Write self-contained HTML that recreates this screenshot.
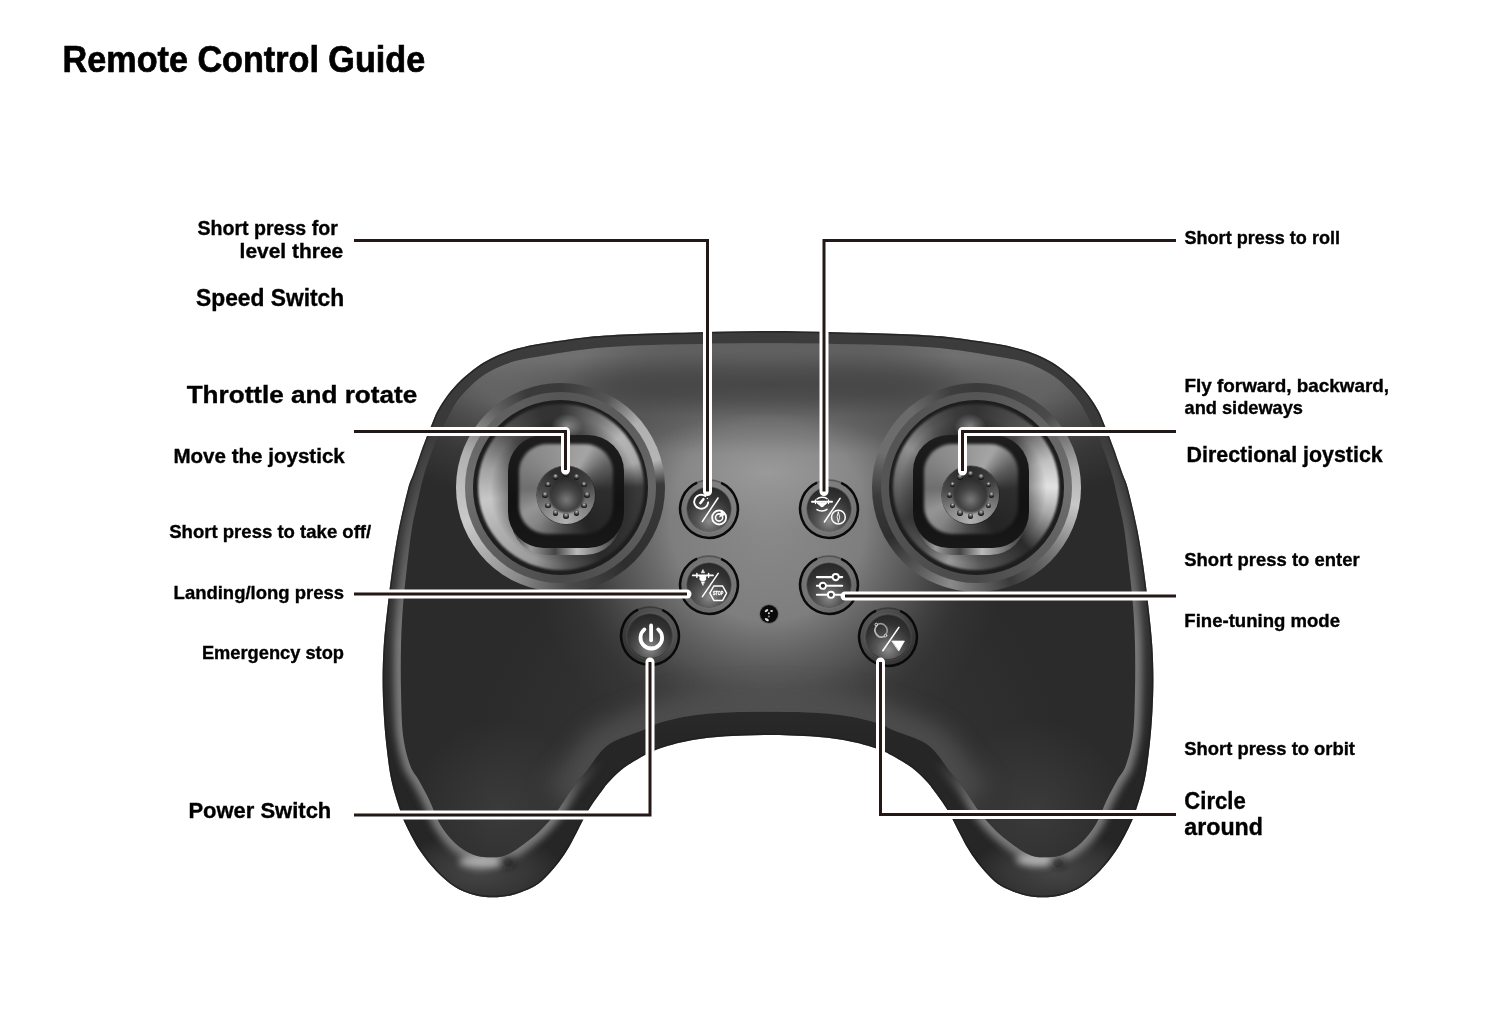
<!DOCTYPE html>
<html><head><meta charset="utf-8"><title>Remote Control Guide</title>
<style>
html,body{margin:0;padding:0;background:#fff;}
body{width:1500px;height:1021px;position:relative;overflow:hidden;font-family:"Liberation Sans",sans-serif;}
.abs{position:absolute;left:0;top:0;will-change:transform;}
</style></head><body>
<svg class="abs" width="1500" height="1021" viewBox="0 0 1500 1021">
<defs>
 <radialGradient id="faceG" gradientUnits="userSpaceOnUse" cx="768" cy="520" r="245" gradientTransform="translate(768 520) scale(1 1.03) translate(-768 -520)">
  <stop offset="0" stop-color="#8a8a8a" stop-opacity="1"/>
  <stop offset="0.4" stop-color="#7e7e7e" stop-opacity="1"/>
  <stop offset="0.65" stop-color="#5c5c5c" stop-opacity="0.75"/>
  <stop offset="0.85" stop-color="#404040" stop-opacity="0.3"/>
  <stop offset="1" stop-color="#404040" stop-opacity="0"/>
 </radialGradient>
 <radialGradient id="darkBand2" gradientUnits="userSpaceOnUse" cx="768" cy="412" r="330" gradientTransform="translate(768 412) scale(1 0.13) translate(-768 -412)">
  <stop offset="0" stop-color="#3a3a3a" stop-opacity="0.35"/>
  <stop offset="0.6" stop-color="#3a3a3a" stop-opacity="0.2"/>
  <stop offset="1" stop-color="#3a3a3a" stop-opacity="0"/>
 </radialGradient>
 <radialGradient id="hiG" gradientUnits="userSpaceOnUse" cx="768" cy="472" r="140" gradientTransform="translate(768 472) scale(1 0.42) translate(-768 -472)">
  <stop offset="0" stop-color="#a8a8a8" stop-opacity="0.6"/>
  <stop offset="0.5" stop-color="#a0a0a0" stop-opacity="0.35"/>
  <stop offset="1" stop-color="#9a9a9a" stop-opacity="0"/>
 </radialGradient>
 <radialGradient id="gripL" gradientUnits="userSpaceOnUse" cx="500" cy="810" r="90">
  <stop offset="0" stop-color="#3c3c3c" stop-opacity="0.9"/>
  <stop offset="1" stop-color="#3c3c3c" stop-opacity="0"/>
 </radialGradient>
 <radialGradient id="gripR" gradientUnits="userSpaceOnUse" cx="1036" cy="810" r="90">
  <stop offset="0" stop-color="#3c3c3c" stop-opacity="0.9"/>
  <stop offset="1" stop-color="#3c3c3c" stop-opacity="0"/>
 </radialGradient>
 <radialGradient id="faceB" gradientUnits="userSpaceOnUse" cx="768" cy="330" r="520" gradientTransform="translate(768 330) scale(1 0.385) translate(-768 -330)">
  <stop offset="0" stop-color="#747474" stop-opacity="1"/>
  <stop offset="0.55" stop-color="#6e6e6e" stop-opacity="1"/>
  <stop offset="0.62" stop-color="#686868" stop-opacity="1"/>
  <stop offset="0.72" stop-color="#525252" stop-opacity="0.9"/>
  <stop offset="0.85" stop-color="#444" stop-opacity="0.5"/>
  <stop offset="1" stop-color="#444" stop-opacity="0"/>
 </radialGradient>
 <radialGradient id="darkBand" gradientUnits="userSpaceOnUse" cx="768" cy="384" r="330" gradientTransform="translate(768 384) scale(1 0.1) translate(-768 -384)">
  <stop offset="0" stop-color="#3a3a3a" stop-opacity="0.7"/>
  <stop offset="0.45" stop-color="#3a3a3a" stop-opacity="0.5"/>
  <stop offset="0.8" stop-color="#3a3a3a" stop-opacity="0.15"/>
  <stop offset="1" stop-color="#3a3a3a" stop-opacity="0"/>
 </radialGradient>
 <linearGradient id="topG" gradientUnits="userSpaceOnUse" x1="0" y1="345" x2="0" y2="440">
  <stop offset="0" stop-color="#3a3a3a" stop-opacity="0"/>
  <stop offset="0.2" stop-color="#3a3a3a" stop-opacity="0.1"/>
  <stop offset="0.38" stop-color="#3a3a3a" stop-opacity="0.55"/>
  <stop offset="0.6" stop-color="#3a3a3a" stop-opacity="0.2"/>
  <stop offset="1" stop-color="#3a3a3a" stop-opacity="0"/>
 </linearGradient>
 <linearGradient id="silG" gradientUnits="userSpaceOnUse" x1="0" y1="330" x2="0" y2="900">
  <stop offset="0" stop-color="#3c3c3c"/>
  <stop offset="0.45" stop-color="#353535"/>
  <stop offset="0.62" stop-color="#2c2c2c"/>
  <stop offset="0.72" stop-color="#262626"/>
  <stop offset="1" stop-color="#262626"/>
 </linearGradient>
 <radialGradient id="faceG2" gradientUnits="userSpaceOnUse" cx="768" cy="800" r="300">
  <stop offset="0" stop-color="#3e3e3e" stop-opacity="0.9"/>
  <stop offset="1" stop-color="#3e3e3e" stop-opacity="0"/>
 </radialGradient>
 <filter id="blur3" filterUnits="userSpaceOnUse" x="0" y="0" width="1500" height="1021"><feGaussianBlur stdDeviation="3.5"/></filter>
 <clipPath id="silClip"><path d="M768.0,331.0 C745.3,331.0 722.0,331.7 700.0,332.2 C678.0,332.7 654.7,333.3 636.0,334.1 C617.3,334.9 604.0,335.4 588.0,337.0 C572.0,338.6 550.4,342.2 540.0,343.8 C529.6,345.4 531.1,345.2 525.8,346.5 C520.5,347.8 514.1,349.2 508.2,351.3 C502.3,353.4 495.6,356.2 490.5,358.8 C485.4,361.4 481.7,363.6 477.3,366.7 C472.9,369.8 467.8,374.1 464.1,377.3 C460.4,380.5 458.2,382.9 455.3,386.1 C452.4,389.3 449.4,392.6 446.5,396.7 C443.6,400.8 440.1,406.1 437.6,410.8 C435.1,415.5 433.4,420.6 431.5,425.0 C429.6,429.4 428.0,433.3 426.4,437.5 C424.8,441.7 423.0,446.2 421.7,450.0 C420.4,453.8 419.8,455.8 418.3,460.0 C416.9,464.2 414.7,470.2 413.0,475.0 C411.3,479.8 410.3,480.2 408.0,489.0 C405.7,497.8 401.6,515.0 399.0,528.0 C396.4,541.0 394.4,553.9 392.5,567.0 C390.6,580.1 389.1,593.4 387.6,606.5 C386.1,619.6 384.5,633.5 383.7,645.7 C382.9,658.0 382.6,669.0 382.6,680.0 C382.6,691.0 383.0,701.2 383.6,712.0 C384.2,722.8 385.0,733.7 386.3,745.0 C387.6,756.3 389.0,769.2 391.3,780.0 C393.6,790.8 397.4,802.2 400.0,810.0 C402.6,817.8 403.4,819.9 406.7,826.7 C410.0,833.5 415.1,843.4 420.0,850.7 C424.9,858.0 430.2,864.7 436.0,870.7 C441.8,876.7 448.5,882.7 454.7,886.7 C460.9,890.7 466.9,892.9 473.3,894.7 C479.7,896.5 486.6,897.3 493.3,897.3 C500.0,897.3 506.4,896.6 513.3,894.7 C520.2,892.8 529.2,889.2 534.9,886.0 C540.6,882.8 543.5,879.3 547.6,875.2 C551.7,871.1 555.8,866.2 559.4,861.5 C563.0,856.8 566.3,851.7 569.2,846.8 C572.1,841.9 573.7,838.3 577.0,832.1 C580.3,825.9 584.5,816.6 588.8,809.6 C593.0,802.6 599.0,794.7 602.5,790.0 C606.0,785.3 606.0,785.0 609.6,781.3 C613.2,777.6 618.5,771.9 624.3,767.6 C630.1,763.3 639.3,758.2 644.4,755.3 C649.5,752.4 649.0,752.4 654.6,750.4 C660.2,748.4 670.9,745.0 678.1,743.1 C685.3,741.2 690.7,740.3 697.7,739.2 C704.7,738.1 712.1,737.3 720.0,736.7 C727.9,736.1 737.0,735.8 745.0,735.5 C753.0,735.2 760.3,735.0 768.0,735.0 C775.7,735.0 783.0,735.2 791.0,735.5 C799.0,735.8 808.1,736.1 816.0,736.7 C823.9,737.3 831.3,738.1 838.3,739.2 C845.3,740.3 850.7,741.2 857.9,743.1 C865.1,745.0 875.8,748.4 881.4,750.4 C887.0,752.4 886.5,752.4 891.6,755.3 C896.7,758.2 905.9,763.3 911.7,767.6 C917.5,771.9 922.8,777.6 926.4,781.3 C930.0,785.0 930.0,785.3 933.5,790.0 C937.0,794.7 943.0,802.6 947.2,809.6 C951.5,816.6 955.7,825.9 959.0,832.1 C962.3,838.3 963.9,841.9 966.8,846.8 C969.7,851.7 973.0,856.8 976.6,861.5 C980.2,866.2 984.3,871.1 988.4,875.2 C992.5,879.3 995.4,882.8 1001.1,886.0 C1006.8,889.2 1015.8,892.8 1022.7,894.7 C1029.6,896.6 1036.0,897.3 1042.7,897.3 C1049.4,897.3 1056.3,896.5 1062.7,894.7 C1069.1,892.9 1075.1,890.7 1081.3,886.7 C1087.5,882.7 1094.2,876.7 1100.0,870.7 C1105.8,864.7 1111.1,858.0 1116.0,850.7 C1120.9,843.4 1126.0,833.5 1129.3,826.7 C1132.6,819.9 1133.4,817.8 1136.0,810.0 C1138.6,802.2 1142.4,790.8 1144.7,780.0 C1147.0,769.2 1148.4,756.3 1149.7,745.0 C1151.0,733.7 1151.8,722.8 1152.4,712.0 C1153.0,701.2 1153.4,691.0 1153.4,680.0 C1153.4,669.0 1153.1,658.0 1152.3,645.7 C1151.5,633.5 1149.9,619.6 1148.4,606.5 C1146.9,593.4 1145.4,580.1 1143.5,567.0 C1141.6,553.9 1139.6,541.0 1137.0,528.0 C1134.4,515.0 1130.3,497.8 1128.0,489.0 C1125.7,480.2 1124.7,479.8 1123.0,475.0 C1121.3,470.2 1119.2,464.2 1117.7,460.0 C1116.2,455.8 1115.7,453.8 1114.3,450.0 C1112.9,446.2 1111.2,441.7 1109.6,437.5 C1108.0,433.3 1106.4,429.4 1104.5,425.0 C1102.6,420.6 1100.9,415.5 1098.4,410.8 C1095.9,406.1 1092.5,400.8 1089.5,396.7 C1086.5,392.6 1083.6,389.3 1080.7,386.1 C1077.8,382.9 1075.6,380.5 1071.9,377.3 C1068.2,374.1 1063.1,369.8 1058.7,366.7 C1054.3,363.6 1050.7,361.4 1045.5,358.8 C1040.3,356.2 1033.7,353.4 1027.8,351.3 C1021.9,349.2 1015.5,347.8 1010.2,346.5 C1004.9,345.2 1006.4,345.4 996.0,343.8 C985.6,342.2 964.0,338.6 948.0,337.0 C932.0,335.4 918.7,334.9 900.0,334.1 C881.3,333.3 858.0,332.7 836.0,332.2 C814.0,331.7 790.7,331.0 768.0,331.0Z"/></clipPath>
 <linearGradient id="hlG" gradientUnits="userSpaceOnUse" x1="0" y1="420" x2="0" y2="640">
  <stop offset="0" stop-color="#fff" stop-opacity="0"/>
  <stop offset="1" stop-color="#fff" stop-opacity="1"/>
 </linearGradient>
 <linearGradient id="hlX" gradientUnits="userSpaceOnUse" x1="370" y1="0" x2="1166" y2="0">
  <stop offset="0" stop-color="#fff"/>
  <stop offset="0.2" stop-color="#fff"/>
  <stop offset="0.27" stop-color="#000"/>
  <stop offset="0.73" stop-color="#000"/>
  <stop offset="0.8" stop-color="#fff"/>
  <stop offset="1" stop-color="#fff"/>
 </linearGradient>
 <mask id="hlMask" maskUnits="userSpaceOnUse" x="0" y="0" width="1500" height="1021">
  <rect x="370" y="400" width="800" height="520" fill="url(#hlG)"/>
 </mask>
 <linearGradient id="hlY2" gradientUnits="userSpaceOnUse" x1="0" y1="760" x2="0" y2="820">
  <stop offset="0" stop-color="#fff" stop-opacity="0"/>
  <stop offset="1" stop-color="#fff" stop-opacity="1"/>
 </linearGradient>
 <mask id="hlMask2" maskUnits="userSpaceOnUse" x="0" y="0" width="1500" height="1021">
  <rect x="370" y="300" width="800" height="620" fill="url(#hlX)"/>
  <rect x="370" y="300" width="800" height="620" fill="url(#hlY2)"/>
 </mask>
 <radialGradient id="gripRim">
  <stop offset="0" stop-color="#4a4a4a" stop-opacity="0.9"/>
  <stop offset="0.6" stop-color="#404040" stop-opacity="0.6"/>
  <stop offset="1" stop-color="#404040" stop-opacity="0"/>
 </radialGradient>
 <filter id="blur10" filterUnits="userSpaceOnUse" x="0" y="0" width="1500" height="1021"><feGaussianBlur stdDeviation="11"/></filter>
 <clipPath id="faceClip"><path d="M768.0,343.3 C745.3,343.3 722.0,343.5 700.0,343.9 C678.0,344.3 654.7,344.6 636.0,345.5 C617.3,346.4 604.0,347.2 588.0,349.0 C572.0,350.8 551.8,354.3 540.0,356.2 C528.2,358.1 523.8,358.9 517.0,360.6 C510.2,362.4 505.3,364.1 499.4,366.7 C493.5,369.3 486.8,372.9 481.7,376.4 C476.6,379.9 472.6,383.8 468.5,387.9 C464.4,392.0 460.7,395.8 457.0,401.1 C453.3,406.4 449.5,414.1 446.5,419.7 C443.5,425.3 441.3,429.9 439.0,435.0 C436.7,440.1 435.1,443.3 432.6,450.0 C430.1,456.7 426.4,466.7 424.0,475.0 C421.6,483.3 420.0,491.2 418.0,500.0 C416.0,508.8 413.8,516.8 412.0,528.0 C410.2,539.2 408.5,554.0 407.0,567.0 C405.5,580.0 404.0,592.8 403.0,606.0 C402.0,619.2 401.3,632.0 401.0,646.0 C400.7,660.0 400.7,675.2 401.0,690.0 C401.3,704.8 401.5,722.5 403.0,735.0 C404.5,747.5 407.4,757.5 410.0,765.0 C412.6,772.5 415.5,774.2 418.7,780.0 C421.9,785.8 425.8,792.7 429.3,800.0 C432.9,807.3 435.8,816.9 440.0,824.0 C444.2,831.1 449.1,837.6 454.7,842.7 C460.2,847.8 466.9,852.3 473.3,854.7 C479.7,857.1 487.7,857.3 493.3,857.3 C498.9,857.3 502.2,856.5 506.7,854.7 C511.1,852.9 514.5,850.7 520.0,846.7 C525.5,842.7 533.8,836.7 540.0,830.7 C546.2,824.7 551.8,818.0 557.3,810.7 C562.8,803.4 568.3,793.4 573.3,786.7 C578.2,780.0 582.6,776.1 587.0,770.5 C591.4,764.9 595.2,757.8 599.8,752.9 C604.4,748.0 607.1,745.0 614.5,741.1 C621.9,737.2 637.7,732.2 644.4,729.4 C651.1,726.6 649.0,726.4 654.6,724.5 C660.2,722.6 670.9,719.7 678.1,718.1 C685.3,716.5 690.7,715.6 697.7,714.7 C704.7,713.8 712.1,713.2 720.0,712.7 C727.9,712.2 737.0,712.1 745.0,712.0 C753.0,711.9 760.3,711.8 768.0,711.8 C775.7,711.8 783.0,711.9 791.0,712.0 C799.0,712.1 808.1,712.2 816.0,712.7 C823.9,713.2 831.3,713.8 838.3,714.7 C845.3,715.6 850.7,716.5 857.9,718.1 C865.1,719.7 875.8,722.6 881.4,724.5 C887.0,726.4 884.9,726.6 891.6,729.4 C898.3,732.2 914.1,737.2 921.5,741.1 C928.9,745.0 931.6,748.0 936.2,752.9 C940.8,757.8 944.6,764.9 949.0,770.5 C953.4,776.1 957.8,780.0 962.7,786.7 C967.7,793.4 973.2,803.4 978.7,810.7 C984.2,818.0 989.8,824.7 996.0,830.7 C1002.2,836.7 1010.5,842.7 1016.0,846.7 C1021.5,850.7 1024.8,852.9 1029.3,854.7 C1033.8,856.5 1037.1,857.3 1042.7,857.3 C1048.3,857.3 1056.3,857.1 1062.7,854.7 C1069.1,852.3 1075.8,847.8 1081.3,842.7 C1086.8,837.6 1091.8,831.1 1096.0,824.0 C1100.2,816.9 1103.2,807.3 1106.7,800.0 C1110.2,792.7 1114.1,785.8 1117.3,780.0 C1120.5,774.2 1123.4,772.5 1126.0,765.0 C1128.6,757.5 1131.5,747.5 1133.0,735.0 C1134.5,722.5 1134.7,704.8 1135.0,690.0 C1135.3,675.2 1135.3,660.0 1135.0,646.0 C1134.7,632.0 1134.0,619.2 1133.0,606.0 C1132.0,592.8 1130.5,580.0 1129.0,567.0 C1127.5,554.0 1125.8,539.2 1124.0,528.0 C1122.2,516.8 1120.0,508.8 1118.0,500.0 C1116.0,491.2 1114.4,483.3 1112.0,475.0 C1109.6,466.7 1105.9,456.7 1103.4,450.0 C1100.9,443.3 1099.3,440.1 1097.0,435.0 C1094.7,429.9 1092.5,425.3 1089.5,419.7 C1086.5,414.1 1082.7,406.4 1079.0,401.1 C1075.3,395.8 1071.6,392.0 1067.5,387.9 C1063.4,383.8 1059.5,379.9 1054.3,376.4 C1049.1,372.9 1042.5,369.3 1036.6,366.7 C1030.7,364.1 1025.8,362.4 1019.0,360.6 C1012.2,358.9 1007.8,358.1 996.0,356.2 C984.2,354.3 964.0,350.8 948.0,349.0 C932.0,347.2 918.7,346.4 900.0,345.5 C881.3,344.6 858.0,344.3 836.0,343.9 C814.0,343.5 790.7,343.3 768.0,343.3Z"/></clipPath>
</defs>
<path d="M768.0,331.0 C745.3,331.0 722.0,331.7 700.0,332.2 C678.0,332.7 654.7,333.3 636.0,334.1 C617.3,334.9 604.0,335.4 588.0,337.0 C572.0,338.6 550.4,342.2 540.0,343.8 C529.6,345.4 531.1,345.2 525.8,346.5 C520.5,347.8 514.1,349.2 508.2,351.3 C502.3,353.4 495.6,356.2 490.5,358.8 C485.4,361.4 481.7,363.6 477.3,366.7 C472.9,369.8 467.8,374.1 464.1,377.3 C460.4,380.5 458.2,382.9 455.3,386.1 C452.4,389.3 449.4,392.6 446.5,396.7 C443.6,400.8 440.1,406.1 437.6,410.8 C435.1,415.5 433.4,420.6 431.5,425.0 C429.6,429.4 428.0,433.3 426.4,437.5 C424.8,441.7 423.0,446.2 421.7,450.0 C420.4,453.8 419.8,455.8 418.3,460.0 C416.9,464.2 414.7,470.2 413.0,475.0 C411.3,479.8 410.3,480.2 408.0,489.0 C405.7,497.8 401.6,515.0 399.0,528.0 C396.4,541.0 394.4,553.9 392.5,567.0 C390.6,580.1 389.1,593.4 387.6,606.5 C386.1,619.6 384.5,633.5 383.7,645.7 C382.9,658.0 382.6,669.0 382.6,680.0 C382.6,691.0 383.0,701.2 383.6,712.0 C384.2,722.8 385.0,733.7 386.3,745.0 C387.6,756.3 389.0,769.2 391.3,780.0 C393.6,790.8 397.4,802.2 400.0,810.0 C402.6,817.8 403.4,819.9 406.7,826.7 C410.0,833.5 415.1,843.4 420.0,850.7 C424.9,858.0 430.2,864.7 436.0,870.7 C441.8,876.7 448.5,882.7 454.7,886.7 C460.9,890.7 466.9,892.9 473.3,894.7 C479.7,896.5 486.6,897.3 493.3,897.3 C500.0,897.3 506.4,896.6 513.3,894.7 C520.2,892.8 529.2,889.2 534.9,886.0 C540.6,882.8 543.5,879.3 547.6,875.2 C551.7,871.1 555.8,866.2 559.4,861.5 C563.0,856.8 566.3,851.7 569.2,846.8 C572.1,841.9 573.7,838.3 577.0,832.1 C580.3,825.9 584.5,816.6 588.8,809.6 C593.0,802.6 599.0,794.7 602.5,790.0 C606.0,785.3 606.0,785.0 609.6,781.3 C613.2,777.6 618.5,771.9 624.3,767.6 C630.1,763.3 639.3,758.2 644.4,755.3 C649.5,752.4 649.0,752.4 654.6,750.4 C660.2,748.4 670.9,745.0 678.1,743.1 C685.3,741.2 690.7,740.3 697.7,739.2 C704.7,738.1 712.1,737.3 720.0,736.7 C727.9,736.1 737.0,735.8 745.0,735.5 C753.0,735.2 760.3,735.0 768.0,735.0 C775.7,735.0 783.0,735.2 791.0,735.5 C799.0,735.8 808.1,736.1 816.0,736.7 C823.9,737.3 831.3,738.1 838.3,739.2 C845.3,740.3 850.7,741.2 857.9,743.1 C865.1,745.0 875.8,748.4 881.4,750.4 C887.0,752.4 886.5,752.4 891.6,755.3 C896.7,758.2 905.9,763.3 911.7,767.6 C917.5,771.9 922.8,777.6 926.4,781.3 C930.0,785.0 930.0,785.3 933.5,790.0 C937.0,794.7 943.0,802.6 947.2,809.6 C951.5,816.6 955.7,825.9 959.0,832.1 C962.3,838.3 963.9,841.9 966.8,846.8 C969.7,851.7 973.0,856.8 976.6,861.5 C980.2,866.2 984.3,871.1 988.4,875.2 C992.5,879.3 995.4,882.8 1001.1,886.0 C1006.8,889.2 1015.8,892.8 1022.7,894.7 C1029.6,896.6 1036.0,897.3 1042.7,897.3 C1049.4,897.3 1056.3,896.5 1062.7,894.7 C1069.1,892.9 1075.1,890.7 1081.3,886.7 C1087.5,882.7 1094.2,876.7 1100.0,870.7 C1105.8,864.7 1111.1,858.0 1116.0,850.7 C1120.9,843.4 1126.0,833.5 1129.3,826.7 C1132.6,819.9 1133.4,817.8 1136.0,810.0 C1138.6,802.2 1142.4,790.8 1144.7,780.0 C1147.0,769.2 1148.4,756.3 1149.7,745.0 C1151.0,733.7 1151.8,722.8 1152.4,712.0 C1153.0,701.2 1153.4,691.0 1153.4,680.0 C1153.4,669.0 1153.1,658.0 1152.3,645.7 C1151.5,633.5 1149.9,619.6 1148.4,606.5 C1146.9,593.4 1145.4,580.1 1143.5,567.0 C1141.6,553.9 1139.6,541.0 1137.0,528.0 C1134.4,515.0 1130.3,497.8 1128.0,489.0 C1125.7,480.2 1124.7,479.8 1123.0,475.0 C1121.3,470.2 1119.2,464.2 1117.7,460.0 C1116.2,455.8 1115.7,453.8 1114.3,450.0 C1112.9,446.2 1111.2,441.7 1109.6,437.5 C1108.0,433.3 1106.4,429.4 1104.5,425.0 C1102.6,420.6 1100.9,415.5 1098.4,410.8 C1095.9,406.1 1092.5,400.8 1089.5,396.7 C1086.5,392.6 1083.6,389.3 1080.7,386.1 C1077.8,382.9 1075.6,380.5 1071.9,377.3 C1068.2,374.1 1063.1,369.8 1058.7,366.7 C1054.3,363.6 1050.7,361.4 1045.5,358.8 C1040.3,356.2 1033.7,353.4 1027.8,351.3 C1021.9,349.2 1015.5,347.8 1010.2,346.5 C1004.9,345.2 1006.4,345.4 996.0,343.8 C985.6,342.2 964.0,338.6 948.0,337.0 C932.0,335.4 918.7,334.9 900.0,334.1 C881.3,333.3 858.0,332.7 836.0,332.2 C814.0,331.7 790.7,331.0 768.0,331.0Z" fill="url(#silG)"/>
<g clip-path="url(#silClip)">
 <ellipse cx="480" cy="872" rx="85" ry="40" fill="url(#gripRim)"/>
 <ellipse cx="1056" cy="872" rx="85" ry="40" fill="url(#gripRim)"/>
 <path d="M768.0,331.0 C745.3,331.0 722.0,331.7 700.0,332.2 C678.0,332.7 654.7,333.3 636.0,334.1 C617.3,334.9 604.0,335.4 588.0,337.0 C572.0,338.6 550.4,342.2 540.0,343.8 C529.6,345.4 531.1,345.2 525.8,346.5 C520.5,347.8 514.1,349.2 508.2,351.3 C502.3,353.4 495.6,356.2 490.5,358.8 C485.4,361.4 481.7,363.6 477.3,366.7 C472.9,369.8 467.8,374.1 464.1,377.3 C460.4,380.5 458.2,382.9 455.3,386.1 C452.4,389.3 449.4,392.6 446.5,396.7 C443.6,400.8 440.1,406.1 437.6,410.8 C435.1,415.5 433.4,420.6 431.5,425.0 C429.6,429.4 428.0,433.3 426.4,437.5 C424.8,441.7 423.0,446.2 421.7,450.0 C420.4,453.8 419.8,455.8 418.3,460.0 C416.9,464.2 414.7,470.2 413.0,475.0 C411.3,479.8 410.3,480.2 408.0,489.0 C405.7,497.8 401.6,515.0 399.0,528.0 C396.4,541.0 394.4,553.9 392.5,567.0 C390.6,580.1 389.1,593.4 387.6,606.5 C386.1,619.6 384.5,633.5 383.7,645.7 C382.9,658.0 382.6,669.0 382.6,680.0 C382.6,691.0 383.0,701.2 383.6,712.0 C384.2,722.8 385.0,733.7 386.3,745.0 C387.6,756.3 389.0,769.2 391.3,780.0 C393.6,790.8 397.4,802.2 400.0,810.0 C402.6,817.8 403.4,819.9 406.7,826.7 C410.0,833.5 415.1,843.4 420.0,850.7 C424.9,858.0 430.2,864.7 436.0,870.7 C441.8,876.7 448.5,882.7 454.7,886.7 C460.9,890.7 466.9,892.9 473.3,894.7 C479.7,896.5 486.6,897.3 493.3,897.3 C500.0,897.3 506.4,896.6 513.3,894.7 C520.2,892.8 529.2,889.2 534.9,886.0 C540.6,882.8 543.5,879.3 547.6,875.2 C551.7,871.1 555.8,866.2 559.4,861.5 C563.0,856.8 566.3,851.7 569.2,846.8 C572.1,841.9 573.7,838.3 577.0,832.1 C580.3,825.9 584.5,816.6 588.8,809.6 C593.0,802.6 599.0,794.7 602.5,790.0 C606.0,785.3 606.0,785.0 609.6,781.3 C613.2,777.6 618.5,771.9 624.3,767.6 C630.1,763.3 639.3,758.2 644.4,755.3 C649.5,752.4 649.0,752.4 654.6,750.4 C660.2,748.4 670.9,745.0 678.1,743.1 C685.3,741.2 690.7,740.3 697.7,739.2 C704.7,738.1 712.1,737.3 720.0,736.7 C727.9,736.1 737.0,735.8 745.0,735.5 C753.0,735.2 760.3,735.0 768.0,735.0 C775.7,735.0 783.0,735.2 791.0,735.5 C799.0,735.8 808.1,736.1 816.0,736.7 C823.9,737.3 831.3,738.1 838.3,739.2 C845.3,740.3 850.7,741.2 857.9,743.1 C865.1,745.0 875.8,748.4 881.4,750.4 C887.0,752.4 886.5,752.4 891.6,755.3 C896.7,758.2 905.9,763.3 911.7,767.6 C917.5,771.9 922.8,777.6 926.4,781.3 C930.0,785.0 930.0,785.3 933.5,790.0 C937.0,794.7 943.0,802.6 947.2,809.6 C951.5,816.6 955.7,825.9 959.0,832.1 C962.3,838.3 963.9,841.9 966.8,846.8 C969.7,851.7 973.0,856.8 976.6,861.5 C980.2,866.2 984.3,871.1 988.4,875.2 C992.5,879.3 995.4,882.8 1001.1,886.0 C1006.8,889.2 1015.8,892.8 1022.7,894.7 C1029.6,896.6 1036.0,897.3 1042.7,897.3 C1049.4,897.3 1056.3,896.5 1062.7,894.7 C1069.1,892.9 1075.1,890.7 1081.3,886.7 C1087.5,882.7 1094.2,876.7 1100.0,870.7 C1105.8,864.7 1111.1,858.0 1116.0,850.7 C1120.9,843.4 1126.0,833.5 1129.3,826.7 C1132.6,819.9 1133.4,817.8 1136.0,810.0 C1138.6,802.2 1142.4,790.8 1144.7,780.0 C1147.0,769.2 1148.4,756.3 1149.7,745.0 C1151.0,733.7 1151.8,722.8 1152.4,712.0 C1153.0,701.2 1153.4,691.0 1153.4,680.0 C1153.4,669.0 1153.1,658.0 1152.3,645.7 C1151.5,633.5 1149.9,619.6 1148.4,606.5 C1146.9,593.4 1145.4,580.1 1143.5,567.0 C1141.6,553.9 1139.6,541.0 1137.0,528.0 C1134.4,515.0 1130.3,497.8 1128.0,489.0 C1125.7,480.2 1124.7,479.8 1123.0,475.0 C1121.3,470.2 1119.2,464.2 1117.7,460.0 C1116.2,455.8 1115.7,453.8 1114.3,450.0 C1112.9,446.2 1111.2,441.7 1109.6,437.5 C1108.0,433.3 1106.4,429.4 1104.5,425.0 C1102.6,420.6 1100.9,415.5 1098.4,410.8 C1095.9,406.1 1092.5,400.8 1089.5,396.7 C1086.5,392.6 1083.6,389.3 1080.7,386.1 C1077.8,382.9 1075.6,380.5 1071.9,377.3 C1068.2,374.1 1063.1,369.8 1058.7,366.7 C1054.3,363.6 1050.7,361.4 1045.5,358.8 C1040.3,356.2 1033.7,353.4 1027.8,351.3 C1021.9,349.2 1015.5,347.8 1010.2,346.5 C1004.9,345.2 1006.4,345.4 996.0,343.8 C985.6,342.2 964.0,338.6 948.0,337.0 C932.0,335.4 918.7,334.9 900.0,334.1 C881.3,333.3 858.0,332.7 836.0,332.2 C814.0,331.7 790.7,331.0 768.0,331.0Z" fill="none" stroke="#1c1c1c" stroke-width="3" opacity="0.7"/>
</g>
<g clip-path="url(#silClip)"><g mask="url(#hlMask)"><g mask="url(#hlMask2)">
 <path d="M768.0,343.3 C745.3,343.3 722.0,343.5 700.0,343.9 C678.0,344.3 654.7,344.6 636.0,345.5 C617.3,346.4 604.0,347.2 588.0,349.0 C572.0,350.8 551.8,354.3 540.0,356.2 C528.2,358.1 523.8,358.9 517.0,360.6 C510.2,362.4 505.3,364.1 499.4,366.7 C493.5,369.3 486.8,372.9 481.7,376.4 C476.6,379.9 472.6,383.8 468.5,387.9 C464.4,392.0 460.7,395.8 457.0,401.1 C453.3,406.4 449.5,414.1 446.5,419.7 C443.5,425.3 441.3,429.9 439.0,435.0 C436.7,440.1 435.1,443.3 432.6,450.0 C430.1,456.7 426.4,466.7 424.0,475.0 C421.6,483.3 420.0,491.2 418.0,500.0 C416.0,508.8 413.8,516.8 412.0,528.0 C410.2,539.2 408.5,554.0 407.0,567.0 C405.5,580.0 404.0,592.8 403.0,606.0 C402.0,619.2 401.3,632.0 401.0,646.0 C400.7,660.0 400.7,675.2 401.0,690.0 C401.3,704.8 401.5,722.5 403.0,735.0 C404.5,747.5 407.4,757.5 410.0,765.0 C412.6,772.5 415.5,774.2 418.7,780.0 C421.9,785.8 425.8,792.7 429.3,800.0 C432.9,807.3 435.8,816.9 440.0,824.0 C444.2,831.1 449.1,837.6 454.7,842.7 C460.2,847.8 466.9,852.3 473.3,854.7 C479.7,857.1 487.7,857.3 493.3,857.3 C498.9,857.3 502.2,856.5 506.7,854.7 C511.1,852.9 514.5,850.7 520.0,846.7 C525.5,842.7 533.8,836.7 540.0,830.7 C546.2,824.7 551.8,818.0 557.3,810.7 C562.8,803.4 568.3,793.4 573.3,786.7 C578.2,780.0 582.6,776.1 587.0,770.5 C591.4,764.9 595.2,757.8 599.8,752.9 C604.4,748.0 607.1,745.0 614.5,741.1 C621.9,737.2 637.7,732.2 644.4,729.4 C651.1,726.6 649.0,726.4 654.6,724.5 C660.2,722.6 670.9,719.7 678.1,718.1 C685.3,716.5 690.7,715.6 697.7,714.7 C704.7,713.8 712.1,713.2 720.0,712.7 C727.9,712.2 737.0,712.1 745.0,712.0 C753.0,711.9 760.3,711.8 768.0,711.8 C775.7,711.8 783.0,711.9 791.0,712.0 C799.0,712.1 808.1,712.2 816.0,712.7 C823.9,713.2 831.3,713.8 838.3,714.7 C845.3,715.6 850.7,716.5 857.9,718.1 C865.1,719.7 875.8,722.6 881.4,724.5 C887.0,726.4 884.9,726.6 891.6,729.4 C898.3,732.2 914.1,737.2 921.5,741.1 C928.9,745.0 931.6,748.0 936.2,752.9 C940.8,757.8 944.6,764.9 949.0,770.5 C953.4,776.1 957.8,780.0 962.7,786.7 C967.7,793.4 973.2,803.4 978.7,810.7 C984.2,818.0 989.8,824.7 996.0,830.7 C1002.2,836.7 1010.5,842.7 1016.0,846.7 C1021.5,850.7 1024.8,852.9 1029.3,854.7 C1033.8,856.5 1037.1,857.3 1042.7,857.3 C1048.3,857.3 1056.3,857.1 1062.7,854.7 C1069.1,852.3 1075.8,847.8 1081.3,842.7 C1086.8,837.6 1091.8,831.1 1096.0,824.0 C1100.2,816.9 1103.2,807.3 1106.7,800.0 C1110.2,792.7 1114.1,785.8 1117.3,780.0 C1120.5,774.2 1123.4,772.5 1126.0,765.0 C1128.6,757.5 1131.5,747.5 1133.0,735.0 C1134.5,722.5 1134.7,704.8 1135.0,690.0 C1135.3,675.2 1135.3,660.0 1135.0,646.0 C1134.7,632.0 1134.0,619.2 1133.0,606.0 C1132.0,592.8 1130.5,580.0 1129.0,567.0 C1127.5,554.0 1125.8,539.2 1124.0,528.0 C1122.2,516.8 1120.0,508.8 1118.0,500.0 C1116.0,491.2 1114.4,483.3 1112.0,475.0 C1109.6,466.7 1105.9,456.7 1103.4,450.0 C1100.9,443.3 1099.3,440.1 1097.0,435.0 C1094.7,429.9 1092.5,425.3 1089.5,419.7 C1086.5,414.1 1082.7,406.4 1079.0,401.1 C1075.3,395.8 1071.6,392.0 1067.5,387.9 C1063.4,383.8 1059.5,379.9 1054.3,376.4 C1049.1,372.9 1042.5,369.3 1036.6,366.7 C1030.7,364.1 1025.8,362.4 1019.0,360.6 C1012.2,358.9 1007.8,358.1 996.0,356.2 C984.2,354.3 964.0,350.8 948.0,349.0 C932.0,347.2 918.7,346.4 900.0,345.5 C881.3,344.6 858.0,344.3 836.0,343.9 C814.0,343.5 790.7,343.3 768.0,343.3Z" fill="none" stroke="#7a7a7a" stroke-width="14" filter="url(#blur3)"/>
 <ellipse cx="481" cy="862" rx="22" ry="6.5" fill="#b8b8b8" opacity="0.85" filter="url(#blur3)"/>
 <ellipse cx="1036" cy="860" rx="20" ry="6.5" fill="#b8b8b8" opacity="0.85" filter="url(#blur3)"/>
 <ellipse cx="1058" cy="863" rx="7" ry="5" fill="#151515" opacity="0.8" filter="url(#blur3)"/>
 <ellipse cx="508" cy="862" rx="7" ry="5" fill="#151515" opacity="0.8" filter="url(#blur3)"/>
</g></g></g>
<path d="M768.0,343.3 C745.3,343.3 722.0,343.5 700.0,343.9 C678.0,344.3 654.7,344.6 636.0,345.5 C617.3,346.4 604.0,347.2 588.0,349.0 C572.0,350.8 551.8,354.3 540.0,356.2 C528.2,358.1 523.8,358.9 517.0,360.6 C510.2,362.4 505.3,364.1 499.4,366.7 C493.5,369.3 486.8,372.9 481.7,376.4 C476.6,379.9 472.6,383.8 468.5,387.9 C464.4,392.0 460.7,395.8 457.0,401.1 C453.3,406.4 449.5,414.1 446.5,419.7 C443.5,425.3 441.3,429.9 439.0,435.0 C436.7,440.1 435.1,443.3 432.6,450.0 C430.1,456.7 426.4,466.7 424.0,475.0 C421.6,483.3 420.0,491.2 418.0,500.0 C416.0,508.8 413.8,516.8 412.0,528.0 C410.2,539.2 408.5,554.0 407.0,567.0 C405.5,580.0 404.0,592.8 403.0,606.0 C402.0,619.2 401.3,632.0 401.0,646.0 C400.7,660.0 400.7,675.2 401.0,690.0 C401.3,704.8 401.5,722.5 403.0,735.0 C404.5,747.5 407.4,757.5 410.0,765.0 C412.6,772.5 415.5,774.2 418.7,780.0 C421.9,785.8 425.8,792.7 429.3,800.0 C432.9,807.3 435.8,816.9 440.0,824.0 C444.2,831.1 449.1,837.6 454.7,842.7 C460.2,847.8 466.9,852.3 473.3,854.7 C479.7,857.1 487.7,857.3 493.3,857.3 C498.9,857.3 502.2,856.5 506.7,854.7 C511.1,852.9 514.5,850.7 520.0,846.7 C525.5,842.7 533.8,836.7 540.0,830.7 C546.2,824.7 551.8,818.0 557.3,810.7 C562.8,803.4 568.3,793.4 573.3,786.7 C578.2,780.0 582.6,776.1 587.0,770.5 C591.4,764.9 595.2,757.8 599.8,752.9 C604.4,748.0 607.1,745.0 614.5,741.1 C621.9,737.2 637.7,732.2 644.4,729.4 C651.1,726.6 649.0,726.4 654.6,724.5 C660.2,722.6 670.9,719.7 678.1,718.1 C685.3,716.5 690.7,715.6 697.7,714.7 C704.7,713.8 712.1,713.2 720.0,712.7 C727.9,712.2 737.0,712.1 745.0,712.0 C753.0,711.9 760.3,711.8 768.0,711.8 C775.7,711.8 783.0,711.9 791.0,712.0 C799.0,712.1 808.1,712.2 816.0,712.7 C823.9,713.2 831.3,713.8 838.3,714.7 C845.3,715.6 850.7,716.5 857.9,718.1 C865.1,719.7 875.8,722.6 881.4,724.5 C887.0,726.4 884.9,726.6 891.6,729.4 C898.3,732.2 914.1,737.2 921.5,741.1 C928.9,745.0 931.6,748.0 936.2,752.9 C940.8,757.8 944.6,764.9 949.0,770.5 C953.4,776.1 957.8,780.0 962.7,786.7 C967.7,793.4 973.2,803.4 978.7,810.7 C984.2,818.0 989.8,824.7 996.0,830.7 C1002.2,836.7 1010.5,842.7 1016.0,846.7 C1021.5,850.7 1024.8,852.9 1029.3,854.7 C1033.8,856.5 1037.1,857.3 1042.7,857.3 C1048.3,857.3 1056.3,857.1 1062.7,854.7 C1069.1,852.3 1075.8,847.8 1081.3,842.7 C1086.8,837.6 1091.8,831.1 1096.0,824.0 C1100.2,816.9 1103.2,807.3 1106.7,800.0 C1110.2,792.7 1114.1,785.8 1117.3,780.0 C1120.5,774.2 1123.4,772.5 1126.0,765.0 C1128.6,757.5 1131.5,747.5 1133.0,735.0 C1134.5,722.5 1134.7,704.8 1135.0,690.0 C1135.3,675.2 1135.3,660.0 1135.0,646.0 C1134.7,632.0 1134.0,619.2 1133.0,606.0 C1132.0,592.8 1130.5,580.0 1129.0,567.0 C1127.5,554.0 1125.8,539.2 1124.0,528.0 C1122.2,516.8 1120.0,508.8 1118.0,500.0 C1116.0,491.2 1114.4,483.3 1112.0,475.0 C1109.6,466.7 1105.9,456.7 1103.4,450.0 C1100.9,443.3 1099.3,440.1 1097.0,435.0 C1094.7,429.9 1092.5,425.3 1089.5,419.7 C1086.5,414.1 1082.7,406.4 1079.0,401.1 C1075.3,395.8 1071.6,392.0 1067.5,387.9 C1063.4,383.8 1059.5,379.9 1054.3,376.4 C1049.1,372.9 1042.5,369.3 1036.6,366.7 C1030.7,364.1 1025.8,362.4 1019.0,360.6 C1012.2,358.9 1007.8,358.1 996.0,356.2 C984.2,354.3 964.0,350.8 948.0,349.0 C932.0,347.2 918.7,346.4 900.0,345.5 C881.3,344.6 858.0,344.3 836.0,343.9 C814.0,343.5 790.7,343.3 768.0,343.3Z" fill="#2b2b2b"/>
<g clip-path="url(#faceClip)">
 <rect x="380" y="330" width="780" height="560" fill="url(#faceG2)"/>
 <rect x="380" y="330" width="780" height="560" fill="url(#faceB)"/>
 <rect x="380" y="330" width="780" height="560" fill="url(#faceG)"/>
 <rect x="380" y="340" width="780" height="120" fill="url(#darkBand)"/>
 <rect x="380" y="340" width="780" height="160" fill="url(#darkBand2)"/>
 <rect x="380" y="330" width="780" height="560" fill="url(#hiG)"/>
 <path d="M560.0,800.0 C562.2,797.8 568.8,791.6 573.3,786.7 C577.8,781.8 582.6,776.1 587.0,770.5 C591.4,764.9 595.2,757.8 599.8,752.9 C604.4,748.0 607.1,745.0 614.5,741.1 C621.9,737.2 637.7,732.2 644.4,729.4 C651.1,726.6 649.0,726.4 654.6,724.5 C660.2,722.6 670.9,719.7 678.1,718.1 C685.3,716.5 690.7,715.6 697.7,714.7 C704.7,713.8 712.1,713.2 720.0,712.7 C727.9,712.2 737.0,712.1 745.0,712.0 C753.0,711.9 760.3,711.8 768.0,711.8 C775.7,711.8 783.0,711.9 791.0,712.0 C799.0,712.1 808.1,712.2 816.0,712.7 C823.9,713.2 831.3,713.8 838.3,714.7 C845.3,715.6 850.7,716.5 857.9,718.1 C865.1,719.7 875.8,722.6 881.4,724.5 C887.0,726.4 884.9,726.6 891.6,729.4 C898.3,732.2 914.1,737.2 921.5,741.1 C928.9,745.0 931.6,748.0 936.2,752.9 C940.8,757.8 944.6,764.9 949.0,770.5 C953.4,776.1 958.2,781.8 962.7,786.7 C967.2,791.6 973.8,797.8 976.0,800.0" fill="none" stroke="#555" stroke-width="44" filter="url(#blur10)" opacity="0.75"/>
 <rect x="380" y="600" width="780" height="300" fill="url(#gripL)"/>
 <rect x="380" y="600" width="780" height="300" fill="url(#gripR)"/>
</g>
<text x="62.6" y="72" font-family="Liberation Sans" font-weight="bold" font-size="36" stroke="#000" stroke-width="0.7" textLength="362.6" lengthAdjust="spacingAndGlyphs">Remote Control Guide</text>
</svg>
<div style="position:absolute;left:456.0px;top:382.5px;width:209.0px;height:209.0px;border-radius:50%;background:conic-gradient(from 0deg at 50% 50%, #3a3a3a 0deg, #555 28deg, #b0b0b0 50deg, #b5b5b5 74deg, #3a3a3a 88deg, #2e2e2e 140deg, #4a4a4a 175deg, #8a8a8a 205deg, #cacaca 250deg, #b0b0b0 290deg, #666 318deg, #3a3a3a 340deg, #3a3a3a 360deg);filter:blur(0.6px);"></div>
<div style="position:absolute;left:465.0px;top:391.5px;width:191.0px;height:191.0px;border-radius:50%;background:conic-gradient(from 0deg at 50% 50%, #555 0deg, #666 90deg, #4a4a4a 180deg, #707070 270deg, #555 360deg);"></div>
<div style="position:absolute;left:473.0px;top:399.5px;width:175.0px;height:175.0px;border-radius:50%;background:#1e1e1e;filter:blur(0.5px);"></div>
<div style="position:absolute;left:477.5px;top:404.0px;width:166.0px;height:166.0px;border-radius:50%;background:conic-gradient(from 0deg at 50% 50%, #333 0deg, #777 30deg, #b5b5b5 50deg, #aaa 72deg, #3a3a3a 90deg, #2a2a2a 150deg, #555 175deg, #9a9a9a 200deg, #b0b0b0 235deg, #c8c8c8 260deg, #a0a0a0 285deg, #505050 315deg, #333 345deg, #333 360deg);filter:blur(1.2px);"></div>
<div style="position:absolute;left:483.5px;top:410.0px;width:160.0px;height:160.0px;border-radius:50%;background:radial-gradient(circle closest-side, rgba(20,20,20,0.45) 0%, rgba(20,20,20,0.4) 70%, rgba(20,20,20,0) 92%);"></div>
<div style="position:absolute;left:550.5px;top:409.0px;width:32.0px;height:32.0px;border-radius:50%;background:radial-gradient(ellipse 50% 40% at 50% 55%, rgba(200,200,200,0.55), rgba(200,200,200,0));"></div>
<div style="position:absolute;left:511.0px;top:442.0px;width:110px;height:113px;border-radius:36px;background:linear-gradient(90deg, #333 0%, #9a9a9a 18%, #444 40%, #bbb 60%, #777 80%, #333 100%);filter:blur(0.6px);"></div>
<div style="position:absolute;left:508.0px;top:435.0px;width:116px;height:113px;border-radius:36px;background:linear-gradient(180deg,#1e1e1e,#121212 60%,#181818);"></div>
<div style="position:absolute;left:519.0px;top:443.5px;width:94px;height:90px;border-radius:28px;background:conic-gradient(from 0deg at 50% 50%, #999 0deg, #a5a5a5 30deg, #5e5e5e 60deg, #2e2e2e 90deg, #242424 150deg, #4a4a4a 185deg, #858585 220deg, #959595 240deg, #6e6e6e 270deg, #888 315deg, #999 360deg);filter:blur(1.5px);"></div>
<div style="position:absolute;left:537.2px;top:466.2px;width:57.6px;height:57.6px;border-radius:50%;background:conic-gradient(from 0deg at 50% 50%, #2a2a2a 0deg, #404040 60deg, #777 110deg, #b0b0b0 180deg, #8a8a8a 230deg, #4a4a4a 280deg, #2e2e2e 330deg, #2a2a2a 360deg);box-shadow:0 0 0 0.6px rgba(20,20,20,0.6);"></div>
<div style="position:absolute;left:548.5px;top:477.5px;width:35.0px;height:35.0px;border-radius:50%;background:radial-gradient(circle at 50% 62%, #7a7a7a 0%, #444 40%, #2a2a2a 80%, #2e2e2e 100%);filter:blur(0.8px);"></div>
<div style="position:absolute;left:563.2px;top:471.2px;width:5.6px;height:5.6px;border-radius:50%;background:radial-gradient(circle at 50% 30%, #ccc 0%, #666 30%, #151515 70%);"></div>
<div style="position:absolute;left:573.7px;top:474.0px;width:5.6px;height:5.6px;border-radius:50%;background:radial-gradient(circle at 50% 30%, #ccc 0%, #666 30%, #151515 70%);"></div>
<div style="position:absolute;left:581.4px;top:481.7px;width:5.6px;height:5.6px;border-radius:50%;background:radial-gradient(circle at 50% 30%, #ccc 0%, #666 30%, #151515 70%);"></div>
<div style="position:absolute;left:584.2px;top:492.2px;width:5.6px;height:5.6px;border-radius:50%;background:radial-gradient(circle at 50% 30%, #ccc 0%, #666 30%, #151515 70%);"></div>
<div style="position:absolute;left:581.4px;top:502.7px;width:5.6px;height:5.6px;border-radius:50%;background:radial-gradient(circle at 50% 30%, #ccc 0%, #666 30%, #151515 70%);"></div>
<div style="position:absolute;left:573.7px;top:510.4px;width:5.6px;height:5.6px;border-radius:50%;background:radial-gradient(circle at 50% 30%, #ccc 0%, #666 30%, #151515 70%);"></div>
<div style="position:absolute;left:563.2px;top:513.2px;width:5.6px;height:5.6px;border-radius:50%;background:radial-gradient(circle at 50% 30%, #ccc 0%, #666 30%, #151515 70%);"></div>
<div style="position:absolute;left:552.7px;top:510.4px;width:5.6px;height:5.6px;border-radius:50%;background:radial-gradient(circle at 50% 30%, #ccc 0%, #666 30%, #151515 70%);"></div>
<div style="position:absolute;left:545.0px;top:502.7px;width:5.6px;height:5.6px;border-radius:50%;background:radial-gradient(circle at 50% 30%, #ccc 0%, #666 30%, #151515 70%);"></div>
<div style="position:absolute;left:542.2px;top:492.2px;width:5.6px;height:5.6px;border-radius:50%;background:radial-gradient(circle at 50% 30%, #ccc 0%, #666 30%, #151515 70%);"></div>
<div style="position:absolute;left:545.0px;top:481.7px;width:5.6px;height:5.6px;border-radius:50%;background:radial-gradient(circle at 50% 30%, #ccc 0%, #666 30%, #151515 70%);"></div>
<div style="position:absolute;left:552.7px;top:474.0px;width:5.6px;height:5.6px;border-radius:50%;background:radial-gradient(circle at 50% 30%, #ccc 0%, #666 30%, #151515 70%);"></div>
<div style="position:absolute;left:871.5px;top:382.5px;width:209.0px;height:209.0px;border-radius:50%;background:conic-gradient(from 0deg at 50% 50%, #3a3a3a 0deg, #4a4a4a 45deg, #b0b0b0 80deg, #c8c8c8 100deg, #777 130deg, #3a3a3a 160deg, #8a8a8a 195deg, #5a5a5a 215deg, #2e2e2e 240deg, #3a3a3a 265deg, #6e6e6e 290deg, #6a6a6a 320deg, #3e3e3e 345deg, #3a3a3a 360deg);filter:blur(0.6px);"></div>
<div style="position:absolute;left:880.5px;top:391.5px;width:191.0px;height:191.0px;border-radius:50%;background:conic-gradient(from 0deg at 50% 50%, #555 0deg, #707070 90deg, #4a4a4a 180deg, #555 270deg, #555 360deg);"></div>
<div style="position:absolute;left:888.5px;top:399.5px;width:175.0px;height:175.0px;border-radius:50%;background:#1e1e1e;filter:blur(0.5px);"></div>
<div style="position:absolute;left:893.0px;top:404.0px;width:166.0px;height:166.0px;border-radius:50%;background:conic-gradient(from 0deg at 50% 50%, #333 0deg, #555 40deg, #c0c0c0 70deg, #e2e2e2 90deg, #aaa 110deg, #2a2a2a 140deg, #555 175deg, #9a9a9a 200deg, #555 220deg, #3a3a3a 245deg, #6a6a6a 275deg, #909090 300deg, #555 325deg, #3a3a3a 345deg, #333 360deg);filter:blur(1.2px);"></div>
<div style="position:absolute;left:893.0px;top:410.0px;width:160.0px;height:160.0px;border-radius:50%;background:radial-gradient(circle closest-side, rgba(20,20,20,0.45) 0%, rgba(20,20,20,0.4) 70%, rgba(20,20,20,0) 92%);"></div>
<div style="position:absolute;left:954.0px;top:409.0px;width:32.0px;height:32.0px;border-radius:50%;background:radial-gradient(ellipse 50% 40% at 50% 55%, rgba(200,200,200,0.55), rgba(200,200,200,0));"></div>
<div style="position:absolute;left:915.5px;top:442.0px;width:110px;height:113px;border-radius:36px;background:linear-gradient(90deg, #333 0%, #9a9a9a 18%, #444 40%, #bbb 60%, #777 80%, #333 100%);filter:blur(0.6px);"></div>
<div style="position:absolute;left:912.5px;top:435.0px;width:116px;height:113px;border-radius:36px;background:linear-gradient(180deg,#1e1e1e,#121212 60%,#181818);"></div>
<div style="position:absolute;left:923.5px;top:443.5px;width:94px;height:90px;border-radius:28px;background:conic-gradient(from 0deg at 50% 50%, #999 0deg, #a5a5a5 30deg, #5e5e5e 60deg, #2e2e2e 90deg, #242424 150deg, #4a4a4a 185deg, #858585 220deg, #959595 240deg, #6e6e6e 270deg, #888 315deg, #999 360deg);filter:blur(1.5px);"></div>
<div style="position:absolute;left:941.7px;top:466.2px;width:57.6px;height:57.6px;border-radius:50%;background:conic-gradient(from 0deg at 50% 50%, #2a2a2a 0deg, #404040 60deg, #777 110deg, #b0b0b0 180deg, #8a8a8a 230deg, #4a4a4a 280deg, #2e2e2e 330deg, #2a2a2a 360deg);box-shadow:0 0 0 0.6px rgba(20,20,20,0.6);"></div>
<div style="position:absolute;left:953.0px;top:477.5px;width:35.0px;height:35.0px;border-radius:50%;background:radial-gradient(circle at 50% 62%, #7a7a7a 0%, #444 40%, #2a2a2a 80%, #2e2e2e 100%);filter:blur(0.8px);"></div>
<div style="position:absolute;left:967.7px;top:471.2px;width:5.6px;height:5.6px;border-radius:50%;background:radial-gradient(circle at 50% 30%, #ccc 0%, #666 30%, #151515 70%);"></div>
<div style="position:absolute;left:978.2px;top:474.0px;width:5.6px;height:5.6px;border-radius:50%;background:radial-gradient(circle at 50% 30%, #ccc 0%, #666 30%, #151515 70%);"></div>
<div style="position:absolute;left:985.9px;top:481.7px;width:5.6px;height:5.6px;border-radius:50%;background:radial-gradient(circle at 50% 30%, #ccc 0%, #666 30%, #151515 70%);"></div>
<div style="position:absolute;left:988.7px;top:492.2px;width:5.6px;height:5.6px;border-radius:50%;background:radial-gradient(circle at 50% 30%, #ccc 0%, #666 30%, #151515 70%);"></div>
<div style="position:absolute;left:985.9px;top:502.7px;width:5.6px;height:5.6px;border-radius:50%;background:radial-gradient(circle at 50% 30%, #ccc 0%, #666 30%, #151515 70%);"></div>
<div style="position:absolute;left:978.2px;top:510.4px;width:5.6px;height:5.6px;border-radius:50%;background:radial-gradient(circle at 50% 30%, #ccc 0%, #666 30%, #151515 70%);"></div>
<div style="position:absolute;left:967.7px;top:513.2px;width:5.6px;height:5.6px;border-radius:50%;background:radial-gradient(circle at 50% 30%, #ccc 0%, #666 30%, #151515 70%);"></div>
<div style="position:absolute;left:957.2px;top:510.4px;width:5.6px;height:5.6px;border-radius:50%;background:radial-gradient(circle at 50% 30%, #ccc 0%, #666 30%, #151515 70%);"></div>
<div style="position:absolute;left:949.5px;top:502.7px;width:5.6px;height:5.6px;border-radius:50%;background:radial-gradient(circle at 50% 30%, #ccc 0%, #666 30%, #151515 70%);"></div>
<div style="position:absolute;left:946.7px;top:492.2px;width:5.6px;height:5.6px;border-radius:50%;background:radial-gradient(circle at 50% 30%, #ccc 0%, #666 30%, #151515 70%);"></div>
<div style="position:absolute;left:949.5px;top:481.7px;width:5.6px;height:5.6px;border-radius:50%;background:radial-gradient(circle at 50% 30%, #ccc 0%, #666 30%, #151515 70%);"></div>
<div style="position:absolute;left:957.2px;top:474.0px;width:5.6px;height:5.6px;border-radius:50%;background:radial-gradient(circle at 50% 30%, #ccc 0%, #666 30%, #151515 70%);"></div>
<div style="position:absolute;left:680.3px;top:480.8px;width:57px;height:57px;border-radius:50%;background:radial-gradient(circle at 50% 50%, rgba(0,0,0,0.10) 0%, rgba(0,0,0,0.10) 80%, rgba(0,0,0,0.22) 100%);"></div>
<div style="position:absolute;left:684.8px;top:485.3px;width:48px;height:48px;border-radius:50%;background:rgba(255,255,255,0.07);"></div>
<div style="position:absolute;left:686.8px;top:487.3px;width:44px;height:44px;border-radius:50%;background:radial-gradient(circle at 50% 78%, #8a8a8a 0%, #555 30%, #333 60%, #1e1e1e 100%);box-shadow:0 0 1.5px 0.5px rgba(0,0,0,0.5);"></div>
<svg style="position:absolute;left:677.8px;top:478.3px;overflow:visible" width="62" height="62" viewBox="-31 -31 62 62" fill="none" stroke="#fff" stroke-linecap="round" stroke-linejoin="round"><circle r="28.9" stroke="#0e0e0e" stroke-width="2.6" stroke-dasharray="156.4 25.2" transform="rotate(-65)" stroke-linecap="butt"/><circle r="28.9" stroke="rgba(0,0,0,0.35)" stroke-width="1.6" stroke-linecap="butt"/><line x1="9" y1="-11" x2="-6.7" y2="12.7" stroke-width="1.5"/><path d="M-3.6,-12.9 A7,7 0 1 0 -0.8,-6.6" stroke-width="1.9"/><circle cx="-1.6" cy="-10.6" r="0.7" fill="#fff" stroke="none"/><path d="M-8.6,-6 L-5.6,-9.8" stroke-width="2.6"/><circle cx="10.1" cy="8.5" r="7" stroke-width="1.8"/><circle cx="10.1" cy="8.5" r="3.6" stroke-width="1.6"/><path d="M10.1,8.5 L12.2,1.6 A7,7 0 0 1 16.8,5.8 Z" fill="#fff" stroke="none"/></svg>
<div style="position:absolute;left:800.6px;top:480.8px;width:57px;height:57px;border-radius:50%;background:radial-gradient(circle at 50% 50%, rgba(0,0,0,0.10) 0%, rgba(0,0,0,0.10) 80%, rgba(0,0,0,0.22) 100%);"></div>
<div style="position:absolute;left:805.1px;top:485.3px;width:48px;height:48px;border-radius:50%;background:rgba(255,255,255,0.07);"></div>
<div style="position:absolute;left:807.1px;top:487.3px;width:44px;height:44px;border-radius:50%;background:radial-gradient(circle at 50% 78%, #8a8a8a 0%, #555 30%, #333 60%, #1e1e1e 100%);box-shadow:0 0 1.5px 0.5px rgba(0,0,0,0.5);"></div>
<svg style="position:absolute;left:798.1px;top:478.3px;overflow:visible" width="62" height="62" viewBox="-31 -31 62 62" fill="none" stroke="#fff" stroke-linecap="round" stroke-linejoin="round"><circle r="28.9" stroke="#0e0e0e" stroke-width="2.6" stroke-dasharray="156.4 25.2" transform="rotate(-65)" stroke-linecap="butt"/><circle r="28.9" stroke="rgba(0,0,0,0.35)" stroke-width="1.6" stroke-linecap="butt"/><line x1="11.1" y1="-10.6" x2="-4.6" y2="13" stroke-width="1.5"/><path d="M-17,-7.2 H3" stroke-width="2"/><path d="M-13.5,-9 V-5.4 M-0.5,-9 V-5.4" stroke-width="1.3"/><path d="M-11.5,-6 Q-7,-1 -2.5,-6 Z" fill="#fff" stroke-width="1.2"/><circle cx="-7" cy="-3.8" r="2" fill="#fff" stroke="none"/><path d="M-12,-10 A6.5,4 0 0 1 -2,-10.4" stroke-width="1.5"/><path d="M-12,0.6 A6.5,4 0 0 0 -2,0.3" stroke-width="1.5"/><circle cx="9.4" cy="8.2" r="6.9" stroke-width="1.5"/><path d="M9.4,3 L10.6,8.2 L9.4,13.4 L8.2,8.2 Z" stroke-width="0.9"/></svg>
<div style="position:absolute;left:680.5px;top:556.8px;width:57px;height:57px;border-radius:50%;background:radial-gradient(circle at 50% 50%, rgba(0,0,0,0.10) 0%, rgba(0,0,0,0.10) 80%, rgba(0,0,0,0.22) 100%);"></div>
<div style="position:absolute;left:685.0px;top:561.3px;width:48px;height:48px;border-radius:50%;background:rgba(255,255,255,0.07);"></div>
<div style="position:absolute;left:687.0px;top:563.3px;width:44px;height:44px;border-radius:50%;background:radial-gradient(circle at 50% 78%, #8a8a8a 0%, #555 30%, #333 60%, #1e1e1e 100%);box-shadow:0 0 1.5px 0.5px rgba(0,0,0,0.5);"></div>
<svg style="position:absolute;left:678.0px;top:554.3px;overflow:visible" width="62" height="62" viewBox="-31 -31 62 62" fill="none" stroke="#fff" stroke-linecap="round" stroke-linejoin="round"><circle r="28.9" stroke="#0e0e0e" stroke-width="2.6" stroke-dasharray="156.4 25.2" transform="rotate(-65)" stroke-linecap="butt"/><circle r="28.9" stroke="rgba(0,0,0,0.35)" stroke-width="1.6" stroke-linecap="butt"/><line x1="9.2" y1="-11.7" x2="-6.6" y2="11.6" stroke-width="1.5"/><path d="M-16.2,-9.6 H4" stroke-width="1.8"/><path d="M-12.1,-11.4 V-7.8 M-0.4,-11.4 V-7.8" stroke-width="1.5"/><ellipse cx="-6.2" cy="-6.6" rx="3.4" ry="2.6" fill="#fff" stroke="none"/><path d="M-10.5,-9 L-6.2,-5.5 L-1.9,-9 Z" fill="#fff" stroke="none"/><path d="M-6.2,-15.2 L-7.7,-12.2 H-4.7 Z" fill="#fff" stroke-width="0.6"/><path d="M-6.2,0.2 L-7.7,-3.2 H-4.7 Z" fill="#fff" stroke-width="0.6"/><path d="M0.8,8.2 L4.8,1 H13.6 L17.6,8.2 L13.6,15.4 H4.8 Z" stroke-width="1.5"/><text x="9.2" y="10.4" font-family="Liberation Sans" font-weight="bold" font-size="6" fill="#fff" stroke="#fff" stroke-width="0.35" text-anchor="middle" textLength="10.4" lengthAdjust="spacingAndGlyphs">STOP</text></svg>
<div style="position:absolute;left:800.6px;top:556.8px;width:57px;height:57px;border-radius:50%;background:radial-gradient(circle at 50% 50%, rgba(0,0,0,0.10) 0%, rgba(0,0,0,0.10) 80%, rgba(0,0,0,0.22) 100%);"></div>
<div style="position:absolute;left:805.1px;top:561.3px;width:48px;height:48px;border-radius:50%;background:rgba(255,255,255,0.07);"></div>
<div style="position:absolute;left:807.1px;top:563.3px;width:44px;height:44px;border-radius:50%;background:radial-gradient(circle at 50% 78%, #8a8a8a 0%, #555 30%, #333 60%, #1e1e1e 100%);box-shadow:0 0 1.5px 0.5px rgba(0,0,0,0.5);"></div>
<svg style="position:absolute;left:798.1px;top:554.3px;overflow:visible" width="62" height="62" viewBox="-31 -31 62 62" fill="none" stroke="#fff" stroke-linecap="round" stroke-linejoin="round"><circle r="28.9" stroke="#0e0e0e" stroke-width="2.6" stroke-dasharray="156.4 25.2" transform="rotate(-65)" stroke-linecap="butt"/><circle r="28.9" stroke="rgba(0,0,0,0.35)" stroke-width="1.6" stroke-linecap="butt"/><path d="M-12.1,-7.9 H13.2 M-12.1,0.8 H13.2 M-12.1,9.8 H13.2" stroke-width="2.1"/><circle cx="6.7" cy="-7.9" r="3.1" fill="#2a2a2a" stroke-width="1.9"/><circle cx="-6.1" cy="0.8" r="3.1" fill="#2a2a2a" stroke-width="1.9"/><circle cx="2" cy="9.8" r="3.1" fill="#444" stroke-width="1.9"/></svg>
<div style="position:absolute;left:621.5px;top:607.9px;width:57px;height:57px;border-radius:50%;background:radial-gradient(circle at 50% 50%, rgba(0,0,0,0.10) 0%, rgba(0,0,0,0.10) 80%, rgba(0,0,0,0.22) 100%);"></div>
<div style="position:absolute;left:626.0px;top:612.4px;width:48px;height:48px;border-radius:50%;background:rgba(255,255,255,0.07);"></div>
<div style="position:absolute;left:628.0px;top:614.4px;width:44px;height:44px;border-radius:50%;background:radial-gradient(circle at 50% 78%, #8a8a8a 0%, #555 30%, #333 60%, #1e1e1e 100%);box-shadow:0 0 1.5px 0.5px rgba(0,0,0,0.5);"></div>
<svg style="position:absolute;left:619.0px;top:605.4px;overflow:visible" width="62" height="62" viewBox="-31 -31 62 62" fill="none" stroke="#fff" stroke-linecap="round" stroke-linejoin="round"><circle r="28.9" stroke="#0e0e0e" stroke-width="2.6" stroke-dasharray="156.4 25.2" transform="rotate(-65)" stroke-linecap="butt"/><circle r="28.9" stroke="rgba(0,0,0,0.35)" stroke-width="1.6" stroke-linecap="butt"/><path d="M-5.6,-6.6 A10.8,10.8 0 1 0 8.2,-6.6" stroke-width="3.8"/><line x1="1.1" y1="-10.6" x2="1.1" y2="4.3" stroke-width="3.8"/></svg>
<div style="position:absolute;left:859.2px;top:608.5px;width:57px;height:57px;border-radius:50%;background:radial-gradient(circle at 50% 50%, rgba(0,0,0,0.10) 0%, rgba(0,0,0,0.10) 80%, rgba(0,0,0,0.22) 100%);"></div>
<div style="position:absolute;left:863.7px;top:613.0px;width:48px;height:48px;border-radius:50%;background:rgba(255,255,255,0.07);"></div>
<div style="position:absolute;left:865.7px;top:615.0px;width:44px;height:44px;border-radius:50%;background:radial-gradient(circle at 50% 78%, #8a8a8a 0%, #555 30%, #333 60%, #1e1e1e 100%);box-shadow:0 0 1.5px 0.5px rgba(0,0,0,0.5);"></div>
<svg style="position:absolute;left:856.7px;top:606.0px;overflow:visible" width="62" height="62" viewBox="-31 -31 62 62" fill="none" stroke="#fff" stroke-linecap="round" stroke-linejoin="round"><circle r="28.9" stroke="#0e0e0e" stroke-width="2.6" stroke-dasharray="156.4 25.2" transform="rotate(-65)" stroke-linecap="butt"/><circle r="28.9" stroke="rgba(0,0,0,0.35)" stroke-width="1.6" stroke-linecap="butt"/><line x1="10.9" y1="-9.6" x2="-5.2" y2="13.7" stroke-width="1.6"/><path d="M-11,-11.5 A6.8,6.8 0 0 0 -3.7,-0.4" stroke="#bbb" stroke-width="1.6"/><path d="M-9.8,-12.9 A6.8,6.8 0 0 1 -1.8,-3" stroke="#999" stroke-width="1.6"/><circle cx="-11.7" cy="-12.5" r="1.3" stroke="#ddd" stroke-width="1"/><circle cx="-2.5" cy="-1.4" r="1.3" stroke="#ddd" stroke-width="1"/><path d="M4.1,4.1 H16.4 L10.9,13.7 Z" fill="#fff" stroke="#fff" stroke-width="0.8"/></svg>
<div style="position:absolute;left:759.9px;top:604.9px;width:18px;height:18px;border-radius:50%;background:radial-gradient(circle at 50% 50%, #0a0a0a 0%, #0a0a0a 70%, #222 100%);box-shadow:0 0 1px 0.5px rgba(0,0,0,0.4);"></div>
<svg class="abs" width="1500" height="1021" viewBox="0 0 1500 1021" style="filter:blur(0.4px)"><g fill="#ddd">
<ellipse cx="766.5" cy="610.6" rx="2" ry="1.1" transform="rotate(-35 766.5 610.6)"/><ellipse cx="771.6" cy="611" rx="1.4" ry="1.1"/><circle cx="768.9" cy="613.3" r="1"/><circle cx="768.9" cy="616.5" r="1" fill="#888"/><ellipse cx="766.8" cy="619.6" rx="2.2" ry="1.2" transform="rotate(30 766.8 619.6)"/></g></svg>
<svg class="abs" width="1500" height="1021" viewBox="0 0 1500 1021">
<path d="M354,240.5 L707.5,240.5 L707.5,491.5" stroke="#fff" stroke-width="9" fill="none" stroke-linejoin="round" stroke-linecap="round"/><path d="M354,240.5 L707.5,240.5 L707.5,491.5" stroke="#231815" stroke-width="3" fill="none" stroke-linejoin="miter" stroke-linecap="butt"/><path d="M354,431.5 L565.5,431.5 L565.5,470" stroke="#fff" stroke-width="9" fill="none" stroke-linejoin="round" stroke-linecap="round"/><path d="M354,431.5 L565.5,431.5 L565.5,470" stroke="#231815" stroke-width="3" fill="none" stroke-linejoin="miter" stroke-linecap="butt"/><path d="M354,594 L687,594" stroke="#fff" stroke-width="9" fill="none" stroke-linejoin="round" stroke-linecap="round"/><path d="M354,594 L687,594" stroke="#231815" stroke-width="3" fill="none" stroke-linejoin="miter" stroke-linecap="butt"/><path d="M354,815 L650,815 L650,662" stroke="#fff" stroke-width="9" fill="none" stroke-linejoin="round" stroke-linecap="round"/><path d="M354,815 L650,815 L650,662" stroke="#231815" stroke-width="3" fill="none" stroke-linejoin="miter" stroke-linecap="butt"/><path d="M1176,240.5 L824,240.5 L824,491.5" stroke="#fff" stroke-width="9" fill="none" stroke-linejoin="round" stroke-linecap="round"/><path d="M1176,240.5 L824,240.5 L824,491.5" stroke="#231815" stroke-width="3" fill="none" stroke-linejoin="miter" stroke-linecap="butt"/><path d="M1176,431.5 L962.5,431.5 L962.5,471" stroke="#fff" stroke-width="9" fill="none" stroke-linejoin="round" stroke-linecap="round"/><path d="M1176,431.5 L962.5,431.5 L962.5,471" stroke="#231815" stroke-width="3" fill="none" stroke-linejoin="miter" stroke-linecap="butt"/><path d="M1176,596 L845,596" stroke="#fff" stroke-width="9" fill="none" stroke-linejoin="round" stroke-linecap="round"/><path d="M1176,596 L845,596" stroke="#231815" stroke-width="3" fill="none" stroke-linejoin="miter" stroke-linecap="butt"/><path d="M1176,814.5 L880.5,814.5 L880.5,662" stroke="#fff" stroke-width="9" fill="none" stroke-linejoin="round" stroke-linecap="round"/><path d="M1176,814.5 L880.5,814.5 L880.5,662" stroke="#231815" stroke-width="3" fill="none" stroke-linejoin="miter" stroke-linecap="butt"/>
<g font-family="Liberation Sans" font-weight="bold" fill="#000" stroke="#000" stroke-width="0.35">
<text x="197.4" y="234.8" font-size="20" textLength="140.4" lengthAdjust="spacingAndGlyphs">Short press for</text><text x="239.6" y="257.7" font-size="20" textLength="103.6" lengthAdjust="spacingAndGlyphs">level three</text><text x="196.0" y="306.0" font-size="23" textLength="148.2" lengthAdjust="spacingAndGlyphs">Speed Switch</text><text x="186.7" y="403.0" font-size="23" textLength="230.5" lengthAdjust="spacingAndGlyphs">Throttle and rotate</text><text x="173.4" y="462.9" font-size="20" textLength="171.4" lengthAdjust="spacingAndGlyphs">Move the joystick</text><text x="169.2" y="538.0" font-size="18.5" textLength="202.0" lengthAdjust="spacingAndGlyphs">Short press to take off/</text><text x="173.6" y="598.8" font-size="18.5" textLength="170.4" lengthAdjust="spacingAndGlyphs">Landing/long press</text><text x="201.9" y="658.8" font-size="18.5" textLength="142.1" lengthAdjust="spacingAndGlyphs">Emergency stop</text><text x="188.4" y="817.6" font-size="22" textLength="142.9" lengthAdjust="spacingAndGlyphs">Power Switch</text><text x="1184.5" y="244.2" font-size="18.5" textLength="155.5" lengthAdjust="spacingAndGlyphs">Short press to roll</text><text x="1184.5" y="392.4" font-size="18.5" textLength="204.5" lengthAdjust="spacingAndGlyphs">Fly forward, backward,</text><text x="1184.5" y="413.6" font-size="18.5" textLength="118.5" lengthAdjust="spacingAndGlyphs">and sideways</text><text x="1186.6" y="461.5" font-size="22" textLength="196.1" lengthAdjust="spacingAndGlyphs">Directional joystick</text><text x="1184.3" y="566.4" font-size="18.5" textLength="175.3" lengthAdjust="spacingAndGlyphs">Short press to enter</text><text x="1184.3" y="626.5" font-size="18.5" textLength="155.7" lengthAdjust="spacingAndGlyphs">Fine-tuning mode</text><text x="1184.3" y="754.8" font-size="18.5" textLength="170.7" lengthAdjust="spacingAndGlyphs">Short press to orbit</text><text x="1184.3" y="808.5" font-size="23" textLength="61.5" lengthAdjust="spacingAndGlyphs">Circle</text><text x="1184.3" y="835.0" font-size="23" textLength="78.7" lengthAdjust="spacingAndGlyphs">around</text>
</g>
</svg>
</body></html>
